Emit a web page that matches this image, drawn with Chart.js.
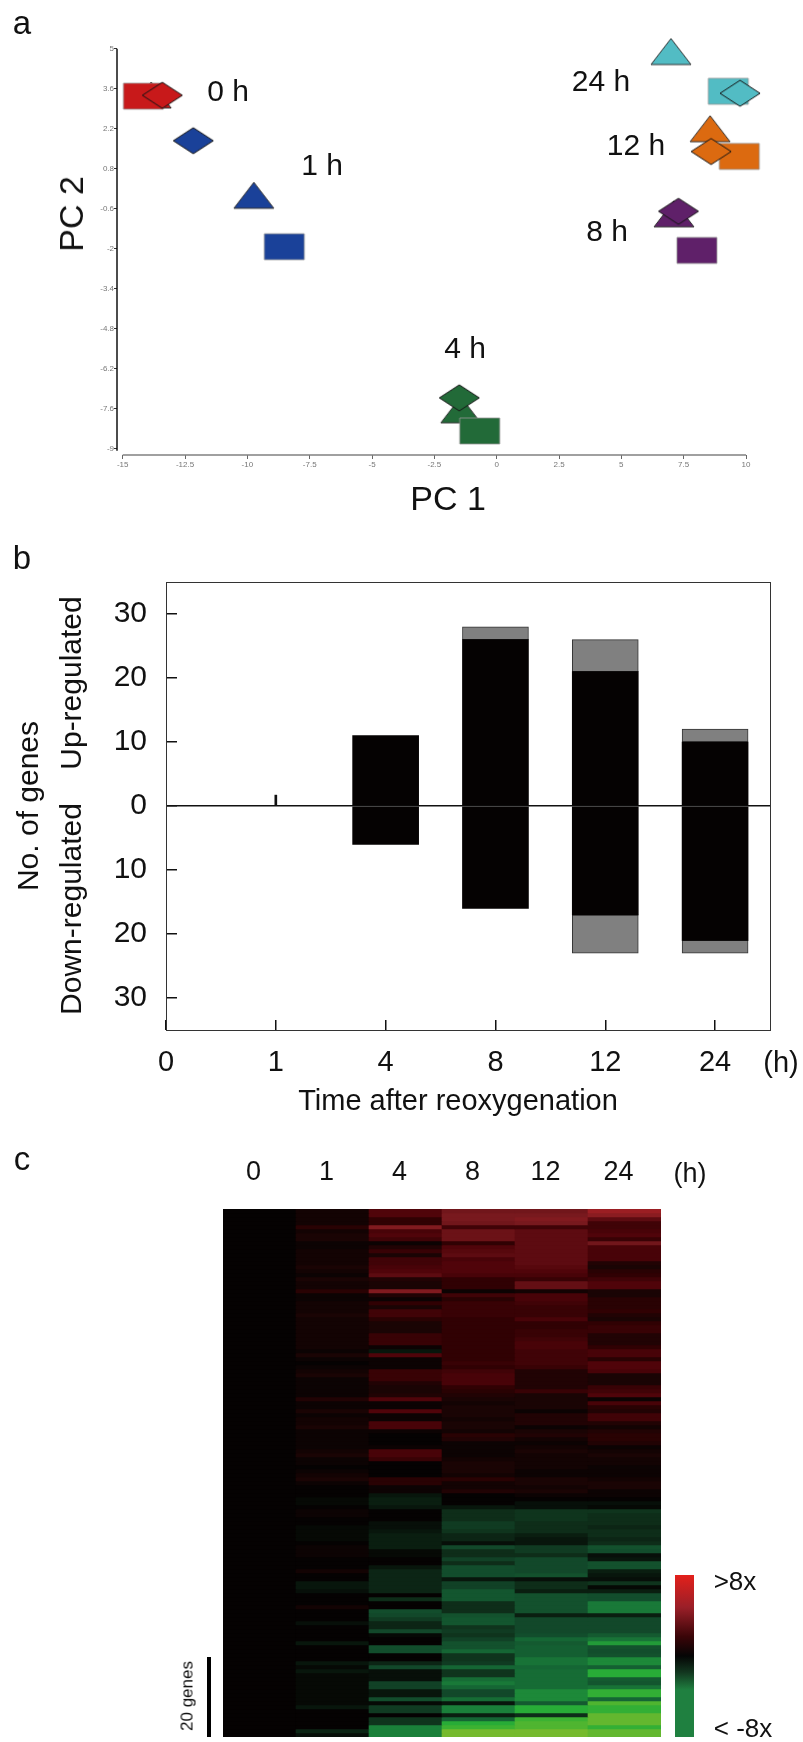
<!DOCTYPE html>
<html>
<head>
<meta charset="utf-8">
<script src="https://cdn.jsdelivr.net/npm/chart.js@4"></script>
<style>
  html, body { margin: 0; padding: 0; background: #fff; }
  body { position: relative; width: 803px; height: 1742px; overflow: hidden; font-family: "Liberation Sans", Arial, sans-serif; color: #111; }
  canvas { position: absolute; }
  .lbl { position: absolute; white-space: nowrap; line-height: 1; }
</style>
</head>
<body>
<canvas id="pca" width="803" height="530" style="left:0px;top:0px"></canvas>
<canvas id="bars" width="803" height="570" style="left:0px;top:550px"></canvas>
<canvas id="heat" width="520" height="590" style="left:160px;top:1150px"></canvas>
<canvas id="scalebar" width="19" height="162" style="left:675px;top:1575px"></canvas>
<script>
// panel a: PCA, one point per time and shape
const pcaGroups = ["0 h", "1 h", "4 h", "8 h", "12 h", "24 h"];
const pcaColors = ["#c8191a", "#1a4199", "#226a38", "#5f2069", "#dc6a10", "#52bcc4"];
const triX = [-13.86, -9.74, -1.44, 7.11, 8.56, 6.99];
const triY = [3.38, -0.13, -7.64, -0.78, 2.20, 4.90];
const rectX = [-14.17, -8.52, -0.68, 8.03, 9.73, 9.29];
const rectY = [3.34, -1.93, -8.38, -2.06, 1.23, 3.51];
const diaX = [-13.41, -12.17, -1.50, 7.29, 8.60, 9.76];
const diaY = [3.37, 1.78, -7.22, -0.69, 1.40, 3.44];
const pcXTicks = [-15, -12.5, -10, -7.5, -5, -2.5, 0, 2.5, 5, 7.5, 10];
const pcYTicks = [5, 3.6, 2.2, 0.8, -0.6, -2, -3.4, -4.8, -6.2, -7.6, -9];

// panel b: number of genes
const timeLabels = ["0", "1", "4", "8", "12", "24"];
const timeIndex = [0, 1, 2, 3, 4, 5];
const upBlack = [null, null, 11, 26, 21, 10];
const upGray = [null, null, null, 2, 5, 2];
const downBlack = [null, null, -6, -16, -17, -21];
const downGray = [null, null, null, null, -6, -2];
const oneHourUp = [null, 1.7, null, null, null, null];
const geneTicks = [-30, -20, -10, 0, 10, 20, 30];

// panel c: log2 ratios, top row to bottom row
const heat0h = [
  0,0,0,0,0,0,0,0,0,0, 0,0,0,0,0,0,0,0,0,0, 0,0,0,0,0,0,0,0,0,0, 0,0,0,0,0,0,0,0,0,0,
  0,0,0,0,0,0,0,0,0,0, 0,0,0,0,0,0,0,0,0,0, 0,0,0,0,0,0,0,0,0,0, 0,0,0,0,0,0,0,0,0,0,
  0,0,0,0,0,0,0,0,0,0, 0,0,0,0,0,0,0,0,0,0, 0,0,0,0,0,0,0,0,0,0, 0,0,0,0,0,0,0,0,0,0,
  0,0,0,0,0,0,0,0,0,0, 0,0,0,0,0,0,0,0,0,0, 0,0,0,0,0,0,0,0,0,0, 0,0];
const heat1h = [
  .2,.2,.2,.2,.5,.2,.3,.3,.1,.1,
  .2,.2,.2,.2,.3,.2,.1,.3,.2,.2,
  .5,.1,.1,.2,.2,.2,.3,.2,.2,.2,
  .2,.2,.2,.2,.2,.1,.3,.1,0,.1,
  .2,.3,.1,.1,.1,.1,.1,.4,.1,.1,
  .3,.1,.2,.2,.3,.1,.1,.1,.1,.1,
  .2,.3,.1,.1,0,.1,.2,.3,.1,0,
  0,0,-.1,-.1,0,.1,.1,0,0,-.1,
  -.1,-.1,-.1,0,.1,.1,.1,0,0,0,
  .2,0,0,-.3,-.3,-.2,0,0,0,.2,
  0,0,0,-.2,0,0,0,0,-.3,0,
  0,0,0,-.3,-.1,-.3,-.1,-.1,-.1,-.1,
  -.1,-.1,-.1,-.1,-.3,0,0,0,0,0,
  -.5,-.2];
const heat4h = [
  1,1,.6,.6,1.7,.9,1,.8,.1,.4,
  .7,.3,.8,.8,.9,1,1.2,.4,.3,.3,
  1.7,.4,.1,.6,.3,.8,.8,.5,.3,.3,
  .3,.7,.7,.7,.1,-.3,1,.1,.1,.1,
  .7,.7,.7,.4,.3,.3,.4,1,.1,.1,
  1,.1,.1,.9,.9,.1,0,0,0,.1,
  .9,.9,.7,0,0,0,0,.5,.5,.1,
  .1,-.3,-.4,-.4,-.3,0,0,0,-.2,-.2,
  -.3,-.4,-.4,-.4,-.4,-.1,-.1,0,0,-.3,
  -.5,-.5,-.5,-.5,-.5,-.5,0,-.6,0,0,
  -1.1,-1,-.8,-.5,-.5,-1,-.1,0,0,-1.1,
  -1.1,0,0,-.5,-1,-.2,-.2,-.2,-.9,-.9,
  -.3,-.3,-1.1,-.1,-.8,-.8,0,-.7,-.7,-2,
  -2,-2];
const heat8h = [
  1.5,1.6,1.6,1.5,.8,1.4,1.4,1.4,.6,1,
  1.1,1.2,.9,1,1,1,.9,.6,.6,.6,
  .1,.8,.5,.7,.7,.7,.7,.6,.6,.6,
  .6,.6,.6,.6,.6,.6,.6,.6,.7,.6,
  .8,.9,.9,.9,.6,.5,.4,.3,.2,.3,
  .3,.3,.2,.3,.3,.2,.5,.4,.1,.1,
  .1,.1,.2,.3,.3,.3,.2,.5,.2,.2,
  .4,0,0,0,-.3,-.6,-.6,-.6,-.8,-.8,
  -.7,-.5,-.5,-.2,-1,-.6,-.6,-.9,-.6,-1.1,
  -1.1,-1.1,-.3,-.9,-.9,-1.3,-1.3,-1.3,-.6,-.6,
  -.6,-1.2,-1.3,-1.3,-.7,-.8,-.7,-.9,-1.2,-1.2,
  -1.6,-.7,-.7,-.8,-1.6,-.7,-.7,-1.7,-1.9,-1.6,
  -1,-1,-1.7,-.3,-2,-2,-.4,-1.6,-2.5,-2.7,
  -3,-3];
const heat12h = [
  1.5,1.6,1.7,1.6,.8,1.2,1.2,1.2,1.2,1.2,
  1.2,1.2,1.2,1.2,1.1,1,.9,.7,1.3,1.3,
  .2,.9,.9,.8,.7,.7,.7,.9,.6,.6,
  .7,.7,.8,.9,.9,.8,.8,.8,.8,.7,
  .4,.4,.4,.4,.4,.7,.3,.3,.3,.3,
  .1,.4,.4,.4,.1,.3,.4,.2,.1,.2,
  .3,.2,.2,.2,.2,.1,.1,.3,.3,.2,
  .3,.1,0,-.2,-.2,-.7,-.7,-.7,-.6,-.6,
  -.6,-.4,-.3,-.3,-.8,-.8,-.6,-1,-1,-1,
  -1,-1.2,-.2,-.6,-.6,-.4,-1.2,-1.2,-1.2,-1.2,
  -1.2,-.4,-1,-1,-1,-1,-1.1,-1.6,-1.4,-1.5,
  -1.5,-1.5,-1.8,-1.8,-1.6,-1.7,-1.7,-1.7,-1.7,-1.7,
  -2.1,-2.1,-2.1,-1.4,-2.5,-2.5,-.6,-2.7,-2.8,-2.8,
  -3,-3];
const heat24h = [
  2,1.8,1.2,.8,.8,.9,1,.7,1.5,.9,
  .9,.9,.9,.4,.3,.5,.6,.8,1,1,
  .3,.3,.5,.5,.5,.6,.4,.3,.6,.7,
  .7,.4,.4,.4,.6,.9,.9,.5,1,1,
  .9,.3,.3,.3,.7,.8,1,.1,.9,.5,
  .4,.8,.8,.4,.2,.4,.5,.5,.4,.1,
  .2,.3,.2,.2,.1,.1,.1,.2,.3,.3,
  .1,.1,0,-.2,-.1,-.7,-.6,-.6,-.6,-.5,
  -.6,-.6,-.5,-.6,-1.2,-1.1,-.2,-.3,-1.2,-1.2,
  -.4,-.3,-.2,-.7,-.1,-.4,-1.1,-1.1,-1.9,-1.9,
  -1.9,-.4,-1,-1,-1,-1,-1.4,-1.8,-2.3,-1.2,
  -1.1,-1.2,-2.1,-2.1,-1.5,-2.5,-2.5,-1.4,-1.3,-1.8,
  -2.6,-2.6,-1.6,-2.8,-2.6,-2.6,-2.9,-2.9,-2.9,-2.6,
  -2.9,-2.9];
const heatColumns = [heat0h, heat1h, heat4h, heat8h, heat12h, heat24h];

// colour ramp of the heat map: [ratio, r, g, b]
const ramp = [
  [-3, 118, 186, 45], [-2.7, 60, 178, 50], [-2.5, 40, 172, 55], [-2, 26, 128, 58], [-1.5, 20, 95, 50],
  [-1, 18, 72, 42], [-0.6, 14, 45, 25], [-0.3, 8, 22, 12], [0, 5, 2, 2], [0.3, 26, 4, 4],
  [0.6, 48, 1, 3], [1, 80, 4, 10], [1.6, 120, 25, 30], [2, 155, 30, 35], [3, 225, 30, 25]
];

function heatColor(v) {
  let i = 0;
  while (i < ramp.length - 2 && v > ramp[i + 1][0]) i++;
  const a = ramp[i], b = ramp[i + 1];
  const t = (v - a[0]) / (b[0] - a[0]);
  const c = [1, 2, 3].map(k => Math.round(a[k] + (b[k] - a[k]) * t));
  return `rgb(${c[0]},${c[1]},${c[2]})`;
}

// markers of panel a are wider than tall, so they are drawn into small canvases
function marker(shape, fill) {
  const c = document.createElement("canvas");
  c.width = 44; c.height = 30;
  const g = c.getContext("2d");
  g.beginPath();
  if (shape === "tri") {
    g.moveTo(22, 2); g.lineTo(42, 28); g.lineTo(2, 28);
  } else if (shape === "dia") {
    g.moveTo(22, 2); g.lineTo(42, 15); g.lineTo(22, 28); g.lineTo(2, 15);
  } else {
    g.rect(2, 2, 40, 26);
  }
  g.closePath();
  g.fillStyle = fill;
  g.fill();
  g.lineWidth = 1;
  g.strokeStyle = shape === "rect" ? "rgba(150,150,150,.8)" : (shape === "dia" ? "#151515" : "#333");
  g.stroke();
  return c;
}

function pcaDataset(xs, ys, shape) {
  return {
    data: xs.map((x, i) => ({ x: x, y: ys[i] })),
    pointStyle: pcaColors.map(col => marker(shape, col)),
    pointRadius: 10,
    clip: false
  };
}

const fixedTicks = list => scale => { scale.ticks = list.map(v => ({ value: v })); };

const pcaAxes = {
  id: "pcaAxes",
  afterDatasetsDraw(chart) {
    const g = chart.ctx, x = chart.scales.x, y = chart.scales.y;
    g.save();
    g.lineWidth = 1.5;
    g.strokeStyle = "#111";
    g.beginPath(); g.moveTo(x.left, y.getPixelForValue(5)); g.lineTo(x.left, y.getPixelForValue(-9) + 2); g.stroke();
    g.strokeStyle = "#808080";
    g.beginPath(); g.moveTo(x.getPixelForValue(-15), y.bottom); g.lineTo(x.getPixelForValue(10), y.bottom); g.stroke();
    g.restore();
  }
};

// chart.js paints the first dataset last, so the diamonds go first
new Chart(document.getElementById("pca"), {
  type: "scatter",
  data: { datasets: [pcaDataset(diaX, diaY, "dia"), pcaDataset(rectX, rectY, "rect"), pcaDataset(triX, triY, "tri")] },
  plugins: [pcaAxes],
  options: {
    responsive: false,
    animation: false,
    layout: { padding: { top: 48.7, right: 57, bottom: 0, left: 0 } },
    plugins: { legend: { display: false }, tooltip: { enabled: false } },
    scales: {
      x: {
        type: "linear", min: -15.23, max: 10,
        afterBuildTicks: fixedTicks(pcXTicks),
        afterFit: s => { s.height = 75; },
        border: { display: false },
        grid: { drawOnChartArea: false, tickLength: 4, tickColor: "#666" },
        ticks: { autoSkip: false, maxRotation: 0, padding: 1, color: "#777", font: { size: 8 }, callback: v => String(v) }
      },
      y: {
        type: "linear", min: -9.22, max: 5,
        afterBuildTicks: fixedTicks(pcYTicks),
        afterFit: s => { s.width = 117; },
        border: { display: false },
        grid: { drawOnChartArea: false, tickLength: 3, tickColor: "#333" },
        ticks: { autoSkip: false, padding: 0, color: "#777", font: { size: 8 }, callback: v => String(v) }
      }
    }
  }
});

const plotBox = {
  id: "plotBox",
  afterDatasetsDraw(chart) {
    const a = chart.chartArea, g = chart.ctx;
    g.save();
    g.strokeStyle = "#333";
    g.lineWidth = 1;
    g.strokeRect(a.left + 0.5, a.top + 0.5, a.right - a.left, a.bottom - a.top);
    g.restore();
  }
};

function barData(vals) {
  return timeIndex.map((x, i) => ({ x: x, y: vals[i] }));
}
const barBase = { barThickness: 66, borderSkipped: false };

new Chart(document.getElementById("bars"), {
  type: "bar",
  data: {
    datasets: [
      { ...barBase, data: barData(upBlack), backgroundColor: "#050202" },
      { ...barBase, data: barData(upGray), backgroundColor: "#808080", borderColor: "#333", borderWidth: 1 },
      { ...barBase, data: barData(downBlack), backgroundColor: "#050202" },
      { ...barBase, data: barData(downGray), backgroundColor: "#808080", borderColor: "#333", borderWidth: 1 },
      { data: barData(oneHourUp), barThickness: 2, backgroundColor: "#111" }
    ]
  },
  plugins: [plotBox],
  options: {
    responsive: false,
    animation: false,
    layout: { padding: { top: 32, right: 33, bottom: 0, left: 0 } },
    plugins: { legend: { display: false }, tooltip: { enabled: false } },
    scales: {
      x: {
        type: "linear", stacked: true, min: 0, max: 5.5, offset: false,
        afterBuildTicks: fixedTicks(timeIndex),
        afterFit: s => { s.height = 90; s.paddingLeft = 0; s.paddingRight = 0; },
        border: { display: false },
        grid: { offset: false, drawOnChartArea: false, tickLength: -10, tickColor: "#111", lineWidth: 1.5 },
        ticks: { autoSkip: false, maxRotation: 0, padding: 26, color: "#111", font: { size: 29 }, callback: v => timeLabels[v] }
      },
      y: {
        type: "linear", stacked: true, min: -35, max: 35,
        afterBuildTicks: fixedTicks(geneTicks),
        afterFit: s => { s.width = 166; s.paddingTop = 0; s.paddingBottom = 0; },
        border: { display: false },
        grid: { color: c => c.tick && c.tick.value === 0 ? "#111" : "transparent", tickLength: -11, tickColor: "#111", lineWidth: 1.5 },
        ticks: { autoSkip: false, padding: 30, color: "#111", font: { size: 30 }, callback: v => String(Math.abs(v)) }
      }
    }
  }
});

const rowCount = heat1h.length;
const geneBarRows = 20;

const geneBar = {
  id: "geneBar",
  afterDatasetsDraw(chart) {
    const g = chart.ctx, y = chart.scales.y, left = chart.chartArea.left;
    g.save();
    g.fillStyle = "#000";
    const top = y.getPixelForValue(rowCount - geneBarRows);
    g.fillRect(left - 16, top, 4, y.getPixelForValue(rowCount) - top);
    g.restore();
  }
};

new Chart(document.getElementById("heat"), {
  type: "bar",
  data: {
    labels: timeLabels,
    datasets: heat1h.map((_, r) => ({
      data: timeLabels.map(() => 1),
      backgroundColor: heatColumns.map(col => heatColor(col[r])),
      borderWidth: 0,
      barPercentage: 1,
      categoryPercentage: 1
    }))
  },
  plugins: [geneBar],
  options: {
    responsive: false,
    animation: false,
    layout: { padding: { top: 0, right: 19, bottom: 3, left: 63 } },
    plugins: { legend: { display: false }, tooltip: { enabled: false } },
    scales: {
      x: {
        position: "top", stacked: true,
        afterFit: s => { s.height = 59; },
        border: { display: false },
        grid: { display: false, drawTicks: false },
        ticks: { padding: 20, labelOffset: -6, maxRotation: 0, autoSkip: false, color: "#111", font: { size: 27 } }
      },
      y: { display: false, stacked: true, reverse: true, min: 0, max: rowCount }
    }
  }
});

// colour key next to the heat map
new Chart(document.getElementById("scalebar"), {
  type: "bar",
  data: {
    labels: [""],
    datasets: [{
      data: [1],
      barPercentage: 1,
      categoryPercentage: 1,
      backgroundColor: c => {
        const a = c.chart.chartArea;
        if (!a) return "#000";
        const grad = c.chart.ctx.createLinearGradient(0, a.top, 0, a.bottom);
        grad.addColorStop(0, "#e3201b");
        grad.addColorStop(0.2, "#9a1f28");
        grad.addColorStop(0.38, "#3a0508");
        grad.addColorStop(0.5, "#050505");
        grad.addColorStop(0.6, "#12361f");
        grad.addColorStop(0.71, "#1f8040");
        grad.addColorStop(1, "#1f8040");
        return grad;
      }
    }]
  },
  options: {
    responsive: false,
    animation: false,
    layout: { padding: 0 },
    plugins: { legend: { display: false }, tooltip: { enabled: false } },
    scales: {
      x: { display: false },
      y: { display: false, min: 0, max: 1 }
    }
  }
});

// free text around the panels: [text, centre x, centre y, size, rotation]
const textLabels = [
  ["a", 22, 22, 33, 0],
  ["0 h", 228, 91, 30, 0],
  ["1 h", 322, 165, 30, 0],
  ["24 h", 601, 81, 30, 0],
  ["12 h", 636, 145, 30, 0],
  ["8 h", 607, 231, 30, 0],
  ["4 h", 465, 348, 30, 0],
  ["PC 1", 448, 498, 34, 0],
  ["PC 2", 71, 214, 34, -90],
  ["b", 22, 557, 33, 0],
  ["No. of genes", 28, 806, 30, -90],
  ["Up-regulated", 71, 683, 30, -90],
  ["Down-regulated", 71, 909, 30, -90],
  ["(h)", 781, 1062, 29, 0],
  ["Time after reoxygenation", 458, 1100, 29, 0],
  ["c", 22, 1158, 33, 0],
  ["(h)", 690, 1173, 27, 0],
  ["20 genes", 187, 1696, 17, -90],
  [">8x", 735, 1581, 26, 0],
  ["< -8x", 743, 1728, 26, 0]
];

textLabels.forEach(t => {
  const d = document.createElement("div");
  d.className = "lbl";
  d.textContent = t[0];
  d.style.left = t[1] + "px";
  d.style.top = t[2] + "px";
  d.style.fontSize = t[3] + "px";
  d.style.transform = `translate(-50%,-50%) rotate(${t[4]}deg)`;
  document.body.appendChild(d);
});
</script>
</body>
</html>
